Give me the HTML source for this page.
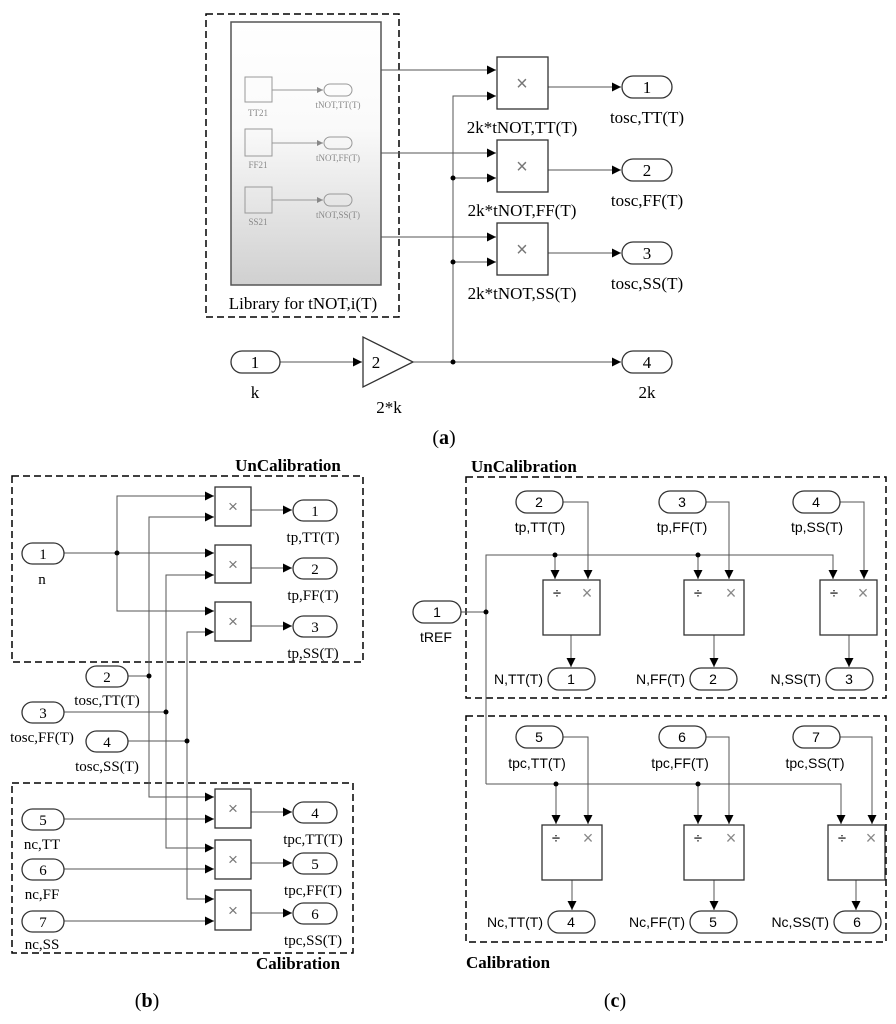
<!DOCTYPE html>
<html><head><meta charset="utf-8"><style>
html,body{margin:0;padding:0;background:#fff}
svg{display:block}
.s{font-family:"Liberation Serif",serif}
.a{font-family:"Liberation Sans",sans-serif}
</style></head><body>
<svg width="896" height="1024" viewBox="0 0 896 1024" xmlns="http://www.w3.org/2000/svg">
<defs>
<marker id="ar" viewBox="0 0 10 10" refX="10" refY="5" markerWidth="9" markerHeight="9" markerUnits="userSpaceOnUse" orient="auto"><path d="M0,0L10,5L0,10z" fill="#000"/></marker>
<marker id="ag" viewBox="0 0 10 10" refX="10" refY="5" markerWidth="6" markerHeight="6" markerUnits="userSpaceOnUse" orient="auto"><path d="M0,0L10,5L0,10z" fill="#888"/></marker>
<linearGradient id="lg" x1="0" y1="0" x2="0" y2="1"><stop offset="0" stop-color="#fff"/><stop offset="0.4" stop-color="#fafafa"/><stop offset="1" stop-color="#d0d0d0"/></linearGradient>
</defs>
<g fill="none" stroke="#000" stroke-width="1">
<rect x="206" y="14" width="193" height="303" stroke-dasharray="7,4" stroke-width="1.5"/>
<rect x="231" y="22" width="150" height="263" fill="url(#lg)" stroke="#555" stroke-width="1.5"/>
<g stroke="#999">
<rect x="245" y="77" width="27" height="25"/><rect x="245" y="129" width="27" height="27"/><rect x="245" y="187" width="27" height="26"/>
<line x1="272" y1="90" x2="323" y2="90" marker-end="url(#ag)"/><line x1="272" y1="143" x2="323" y2="143" marker-end="url(#ag)"/><line x1="272" y1="200" x2="323" y2="200" marker-end="url(#ag)"/>
<rect x="324" y="84" width="28" height="12" rx="6"/><rect x="324" y="137" width="28" height="12" rx="6"/><rect x="324" y="194" width="28" height="12" rx="6"/>
</g>
<g stroke="#555">
<line x1="381" y1="70" x2="496" y2="70" marker-end="url(#ar)"/>
<line x1="381" y1="153" x2="496" y2="153" marker-end="url(#ar)"/>
<line x1="381" y1="237" x2="496" y2="237" marker-end="url(#ar)"/>
<polyline points="453,362 453,96 496,96" marker-end="url(#ar)"/>
<line x1="453" y1="178" x2="496" y2="178" marker-end="url(#ar)"/>
<line x1="453" y1="262" x2="496" y2="262" marker-end="url(#ar)"/>
<line x1="548" y1="87" x2="621" y2="87" marker-end="url(#ar)"/>
<line x1="548" y1="170" x2="621" y2="170" marker-end="url(#ar)"/>
<line x1="548" y1="253" x2="621" y2="253" marker-end="url(#ar)"/>
<line x1="280" y1="362" x2="362" y2="362" marker-end="url(#ar)"/>
<line x1="413" y1="362" x2="621" y2="362" marker-end="url(#ar)"/>
</g>
<g stroke="#333" stroke-width="1.3">
<rect x="497" y="57" width="51" height="52"/><rect x="497" y="140" width="51" height="52"/><rect x="497" y="223" width="51" height="52"/>
<rect x="622" y="76" width="50" height="22" rx="11"/><rect x="622" y="159" width="50" height="22" rx="11"/><rect x="622" y="242" width="50" height="22" rx="11"/><rect x="622" y="351" width="50" height="22" rx="11"/>
<rect x="231" y="351" width="49" height="22" rx="11"/>
<polygon points="363,337 363,387 413,362"/>
</g>
</g>
<g fill="#000"><circle cx="453" cy="178" r="2.5"/><circle cx="453" cy="262" r="2.5"/><circle cx="453" cy="362" r="2.5"/></g>
<g class="s" fill="#888" font-size="9" text-anchor="middle">
<text x="258" y="116">TT21</text><text x="258" y="168">FF21</text><text x="258" y="225">SS21</text>
<text x="338" y="108">tNOT,TT(T)</text><text x="338" y="161">tNOT,FF(T)</text><text x="338" y="218">tNOT,SS(T)</text>
</g>
<g class="a" fill="#777" font-size="20" text-anchor="middle">
<text x="522" y="90">×</text><text x="522" y="173">×</text><text x="522" y="256">×</text>
</g>
<g class="s" fill="#000" font-size="17" text-anchor="middle">
<text x="303" y="309">Library for tNOT,i(T)</text>
<text x="522" y="133">2k*tNOT,TT(T)</text><text x="522" y="216">2k*tNOT,FF(T)</text><text x="522" y="299">2k*tNOT,SS(T)</text>
<text x="647" y="123">tosc,TT(T)</text><text x="647" y="206">tosc,FF(T)</text><text x="647" y="289">tosc,SS(T)</text>
<text x="647" y="93">1</text><text x="647" y="176">2</text><text x="647" y="259">3</text><text x="647" y="368">4</text>
<text x="255" y="368">1</text><text x="255" y="398">k</text>
<text x="376" y="368">2</text><text x="389" y="413">2*k</text><text x="647" y="398">2k</text>
<text x="444" y="444" font-size="20">(<tspan font-weight="bold">a</tspan>)</text>
</g>

<g fill="none" stroke="#000" stroke-width="1">
<rect x="12" y="476" width="351" height="186" stroke-dasharray="7,4" stroke-width="1.5"/>
<rect x="12" y="783" width="341" height="170" stroke-dasharray="7,4" stroke-width="1.5"/>
<g stroke="#555">
<line x1="64" y1="553" x2="214" y2="553" marker-end="url(#ar)"/>
<polyline points="214,496 117,496 117,611 214,611"/>
<line x1="200" y1="496" x2="214" y2="496" marker-end="url(#ar)"/>
<line x1="200" y1="611" x2="214" y2="611" marker-end="url(#ar)"/>
<polyline points="128,676 149,676"/>
<polyline points="214,517 149,517 149,797 214,797" />
<line x1="200" y1="517" x2="214" y2="517" marker-end="url(#ar)"/>
<line x1="200" y1="797" x2="214" y2="797" marker-end="url(#ar)"/>
<polyline points="64,712 166,712"/>
<polyline points="214,575 166,575 166,848 214,848"/>
<line x1="200" y1="575" x2="214" y2="575" marker-end="url(#ar)"/>
<line x1="200" y1="848" x2="214" y2="848" marker-end="url(#ar)"/>
<polyline points="128,741 187,741"/>
<polyline points="214,632 187,632 187,899 214,899"/>
<line x1="200" y1="632" x2="214" y2="632" marker-end="url(#ar)"/>
<line x1="200" y1="899" x2="214" y2="899" marker-end="url(#ar)"/>
<line x1="64" y1="819" x2="214" y2="819" marker-end="url(#ar)"/>
<line x1="64" y1="869" x2="214" y2="869" marker-end="url(#ar)"/>
<line x1="64" y1="921" x2="214" y2="921" marker-end="url(#ar)"/>
<line x1="251" y1="510" x2="292" y2="510" marker-end="url(#ar)"/>
<line x1="251" y1="568" x2="292" y2="568" marker-end="url(#ar)"/>
<line x1="251" y1="626" x2="292" y2="626" marker-end="url(#ar)"/>
<line x1="251" y1="812" x2="292" y2="812" marker-end="url(#ar)"/>
<line x1="251" y1="863" x2="292" y2="863" marker-end="url(#ar)"/>
<line x1="251" y1="913" x2="292" y2="913" marker-end="url(#ar)"/>
</g>
<g stroke="#333" stroke-width="1.3">
<rect x="215" y="487" width="36" height="39"/><rect x="215" y="545" width="36" height="38"/><rect x="215" y="602" width="36" height="39"/>
<rect x="215" y="789" width="36" height="39"/><rect x="215" y="840" width="36" height="39"/><rect x="215" y="890" width="36" height="40"/>
<rect x="293" y="500" width="44" height="21" rx="10.5"/><rect x="293" y="558" width="44" height="21" rx="10.5"/><rect x="293" y="616" width="44" height="21" rx="10.5"/>
<rect x="293" y="802" width="44" height="21" rx="10.5"/><rect x="293" y="853" width="44" height="21" rx="10.5"/><rect x="293" y="903" width="44" height="21" rx="10.5"/>
<rect x="22" y="543" width="42" height="21" rx="10.5"/>
<rect x="86" y="666" width="42" height="21" rx="10.5"/><rect x="22" y="702" width="42" height="21" rx="10.5"/><rect x="86" y="731" width="42" height="21" rx="10.5"/>
<rect x="22" y="809" width="42" height="21" rx="10.5"/><rect x="22" y="859" width="42" height="21" rx="10.5"/><rect x="22" y="911" width="42" height="21" rx="10.5"/>
</g>
</g>
<g fill="#000"><circle cx="117" cy="553" r="2.5"/><circle cx="149" cy="676" r="2.5"/><circle cx="166" cy="712" r="2.5"/><circle cx="187" cy="741" r="2.5"/></g>
<g class="a" fill="#777" font-size="17" text-anchor="middle">
<text x="233" y="512">×</text><text x="233" y="570">×</text><text x="233" y="627">×</text>
<text x="233" y="814">×</text><text x="233" y="865">×</text><text x="233" y="916">×</text>
</g>
<g class="s" fill="#000" font-size="15" text-anchor="middle">
<text x="315" y="516">1</text><text x="315" y="574">2</text><text x="315" y="632">3</text>
<text x="315" y="818">4</text><text x="315" y="869">5</text><text x="315" y="919">6</text>
<text x="43" y="559">1</text><text x="107" y="682">2</text><text x="43" y="718">3</text><text x="107" y="747">4</text>
<text x="43" y="825">5</text><text x="43" y="875">6</text><text x="43" y="927">7</text>
<text x="313" y="542">tp,TT(T)</text><text x="313" y="600">tp,FF(T)</text><text x="313" y="658">tp,SS(T)</text>
<text x="313" y="844">tpc,TT(T)</text><text x="313" y="895">tpc,FF(T)</text><text x="313" y="945">tpc,SS(T)</text>
<text x="42" y="584">n</text>
<text x="107" y="705">tosc,TT(T)</text><text x="42" y="742">tosc,FF(T)</text><text x="107" y="771">tosc,SS(T)</text>
<text x="42" y="849">nc,TT</text><text x="42" y="899">nc,FF</text><text x="42" y="949">nc,SS</text>
<text x="288" y="471" font-weight="bold" font-size="17">UnCalibration</text>
<text x="298" y="969" font-weight="bold" font-size="17">Calibration</text>
<text x="147" y="1007" font-size="20">(<tspan font-weight="bold">b</tspan>)</text>
</g>

<g fill="none" stroke="#000" stroke-width="1">
<rect x="466" y="477" width="420" height="221" stroke-dasharray="7,4" stroke-width="1.5"/>
<rect x="466" y="716" width="420" height="226" stroke-dasharray="7,4" stroke-width="1.5"/>
<g stroke="#555">
<polyline points="461,612 486,612"/>
<polyline points="486,784 486,555 833,555 833,579" />
<line x1="833" y1="570" x2="833" y2="579" marker-end="url(#ar)"/>
<line x1="555" y1="555" x2="555" y2="579" marker-end="url(#ar)"/>
<line x1="698" y1="555" x2="698" y2="579" marker-end="url(#ar)"/>
<polyline points="486,784 841,784 841,824"/>
<line x1="841" y1="810" x2="841" y2="824" marker-end="url(#ar)"/>
<line x1="556" y1="784" x2="556" y2="824" marker-end="url(#ar)"/>
<line x1="698" y1="784" x2="698" y2="824" marker-end="url(#ar)"/>
<polyline points="563,502 588,502 588,579" marker-end="url(#ar)"/>
<polyline points="706,502 729,502 729,579" marker-end="url(#ar)"/>
<polyline points="840,502 864,502 864,579" marker-end="url(#ar)"/>
<polyline points="563,737 588,737 588,824" marker-end="url(#ar)"/>
<polyline points="706,737 729,737 729,824" marker-end="url(#ar)"/>
<polyline points="840,737 872,737 872,824" marker-end="url(#ar)"/>
<line x1="571" y1="635" x2="571" y2="667" marker-end="url(#ar)"/>
<line x1="714" y1="635" x2="714" y2="667" marker-end="url(#ar)"/>
<line x1="849" y1="635" x2="849" y2="667" marker-end="url(#ar)"/>
<line x1="572" y1="880" x2="572" y2="910" marker-end="url(#ar)"/>
<line x1="714" y1="880" x2="714" y2="910" marker-end="url(#ar)"/>
<line x1="856" y1="880" x2="856" y2="910" marker-end="url(#ar)"/>
</g>
<g stroke="#333" stroke-width="1.3">
<rect x="543" y="580" width="57" height="55"/><rect x="684" y="580" width="60" height="55"/><rect x="820" y="580" width="57" height="55"/>
<rect x="542" y="825" width="60" height="55"/><rect x="684" y="825" width="60" height="55"/><rect x="828" y="825" width="57" height="55"/>
<rect x="516" y="491" width="47" height="22" rx="11"/><rect x="659" y="491" width="47" height="22" rx="11"/><rect x="793" y="491" width="47" height="22" rx="11"/>
<rect x="516" y="726" width="47" height="22" rx="11"/><rect x="659" y="726" width="47" height="22" rx="11"/><rect x="793" y="726" width="47" height="22" rx="11"/>
<rect x="413" y="601" width="48" height="22" rx="11"/>
<rect x="548" y="668" width="47" height="22" rx="11"/><rect x="690" y="668" width="47" height="22" rx="11"/><rect x="826" y="668" width="47" height="22" rx="11"/>
<rect x="548" y="911" width="47" height="22" rx="11"/><rect x="690" y="911" width="47" height="22" rx="11"/><rect x="834" y="911" width="47" height="22" rx="11"/>
</g>
</g>
<g fill="#000"><circle cx="486" cy="612" r="2.5"/><circle cx="555" cy="555" r="2.5"/><circle cx="698" cy="555" r="2.5"/><circle cx="556" cy="784" r="2.5"/><circle cx="698" cy="784" r="2.5"/></g>
<g class="a" fill="#000" font-size="15" text-anchor="middle">
<text x="557" y="598">÷</text><text x="698" y="598">÷</text><text x="834" y="598">÷</text>
<text x="556" y="843">÷</text><text x="698" y="843">÷</text><text x="842" y="843">÷</text>
</g>
<g class="a" fill="#888" font-size="18" text-anchor="middle">
<text x="587" y="599">×</text><text x="731" y="599">×</text><text x="863" y="599">×</text>
<text x="588" y="844">×</text><text x="731" y="844">×</text><text x="871" y="844">×</text>
</g>
<g class="a" fill="#000" font-size="14" text-anchor="middle">
<text x="539" y="507">2</text><text x="682" y="507">3</text><text x="816" y="507">4</text>
<text x="539" y="742">5</text><text x="682" y="742">6</text><text x="816" y="742">7</text>
<text x="437" y="617">1</text><text x="436" y="642">tREF</text>
<text x="571" y="684">1</text><text x="713" y="684">2</text><text x="849" y="684">3</text>
<text x="571" y="927">4</text><text x="713" y="927">5</text><text x="857" y="927">6</text>
<text x="540" y="532">tp,TT(T)</text><text x="682" y="532">tp,FF(T)</text><text x="817" y="532">tp,SS(T)</text>
<text x="537" y="768">tpc,TT(T)</text><text x="680" y="768">tpc,FF(T)</text><text x="815" y="768">tpc,SS(T)</text>
</g>
<g class="a" fill="#000" font-size="14" text-anchor="end">
<text x="543" y="684">N,TT(T)</text><text x="685" y="684">N,FF(T)</text><text x="821" y="684">N,SS(T)</text>
<text x="543" y="927">Nc,TT(T)</text><text x="685" y="927">Nc,FF(T)</text><text x="829" y="927">Nc,SS(T)</text>
</g>
<g class="s" fill="#000" font-weight="bold" font-size="17">
<text x="471" y="472">UnCalibration</text>
<text x="466" y="968">Calibration</text>
</g>
<text class="s" x="615" y="1007" font-size="20" text-anchor="middle">(<tspan font-weight="bold">c</tspan>)</text>
</svg>
</body></html>
